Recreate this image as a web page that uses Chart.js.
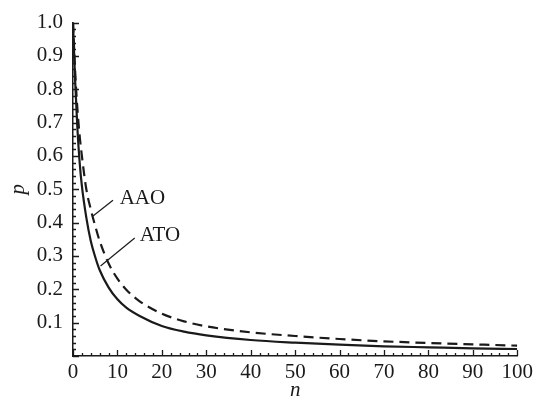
<!DOCTYPE html>
<html>
<head>
<meta charset="utf-8">
<script src="https://cdn.jsdelivr.net/npm/chart.js@4"></script>
<style>
  body { margin: 0; background: #fff; }
  #wrap { width: 537px; height: 401px; }
</style>
</head>
<body>
<div id="wrap"><canvas id="pChart"></canvas></div>
<script>
// values
const nValues = [0, 0.5, 1, 1.5, 2, 3, 4, 5, 6, 8, 10, 12, 15, 20, 25, 30, 40, 50, 60, 70, 80, 90, 100];
const atoValues = [1.0, 0.82, 0.68, 0.58, 0.51, 0.415, 0.345, 0.297, 0.258, 0.206, 0.17, 0.145, 0.12, 0.09, 0.073, 0.062, 0.048, 0.04, 0.034, 0.029, 0.026, 0.023, 0.021];
const aaoValues = [1.0, 0.85, 0.74, 0.66, 0.6, 0.5, 0.44, 0.39, 0.345, 0.278, 0.232, 0.199, 0.164, 0.127, 0.104, 0.089, 0.071, 0.06, 0.051, 0.044, 0.039, 0.035, 0.031];
const xTicks = [0, 10, 20, 30, 40, 50, 60, 70, 80, 90, 100];
const yTicks = [0.1, 0.2, 0.3, 0.4, 0.5, 0.6, 0.7, 0.8, 0.9, 1.0];

// curve labels with leader lines, in data units
const curveLabels = [
  { text: 'AAO', at: [10.5, 0.473], from: [9.0, 0.467], to: [4.5, 0.42] },
  { text: 'ATO', at: [15.0, 0.36], from: [13.9, 0.354], to: [6.2, 0.27] }
];

const serif = '"Liberation Serif", "DejaVu Serif", serif';
const ink = '#1a1a1a';

const toPoints = (ys) => nValues.map((n, i) => ({ x: n, y: ys[i] }));

// inward ticks + curve labels
const axisDecor = {
  id: 'axisDecor',
  afterDraw(chart) {
    const { ctx, chartArea: area, scales: { x, y } } = chart;
    ctx.save();
    ctx.strokeStyle = ink;
    ctx.lineWidth = 1.3;
    ctx.beginPath();
    for (let i = 0; i <= 50; i++) {
      const v = i * 2;
      const px = Math.round(x.getPixelForValue(v)) + 0.5;
      const len = (v % 10 === 0) ? 6 : 3;
      ctx.moveTo(px, area.bottom);
      ctx.lineTo(px, area.bottom - len);
    }
    for (let i = 0; i <= 50; i++) {
      const py = Math.round(y.getPixelForValue(i * 0.02)) + 0.5;
      const len = (i % 5 === 0) ? 6 : 3;
      ctx.moveTo(area.left, py);
      ctx.lineTo(area.left + len, py);
    }
    ctx.stroke();

    ctx.lineWidth = 1.2;
    ctx.fillStyle = ink;
    ctx.font = '21px ' + serif;
    ctx.textBaseline = 'middle';
    ctx.textAlign = 'left';
    curveLabels.forEach(l => {
      ctx.beginPath();
      ctx.moveTo(x.getPixelForValue(l.from[0]), y.getPixelForValue(l.from[1]));
      ctx.lineTo(x.getPixelForValue(l.to[0]), y.getPixelForValue(l.to[1]));
      ctx.stroke();
      ctx.fillText(l.text, x.getPixelForValue(l.at[0]), y.getPixelForValue(l.at[1]));
    });
    ctx.restore();
  }
};

const ctx = document.getElementById('pChart').getContext('2d');

const pChart = new Chart(ctx, {
  type: 'line',
  data: {
    datasets: [{
      label: 'ATO',
      data: toPoints(atoValues),
      borderColor: ink,
      borderWidth: 2.2,
      pointRadius: 0,
      cubicInterpolationMode: 'monotone'
    }, {
      label: 'AAO',
      data: toPoints(aaoValues),
      borderColor: ink,
      borderWidth: 2.2,
      borderDash: [10, 6],
      pointRadius: 0,
      cubicInterpolationMode: 'monotone'
    }]
  },
  options: {
    responsive: true,
    maintainAspectRatio: false,
    animation: false,
    layout: {
      padding: { top: 20, right: 17, bottom: 0, left: 0 }
    },
    scales: {
      x: {
        type: 'linear',
        min: 0,
        max: 100,
        afterFit: (s) => { s.height = 45; },
        afterBuildTicks: (s) => { s.ticks = xTicks.map(v => ({ value: v })); },
        grid: { display: false, drawTicks: false },
        border: { display: true, color: ink, width: 1.5 },
        ticks: {
          padding: 4,
          maxRotation: 0,
          color: ink,
          font: { family: serif, size: 21 }
        },
        title: {
          display: true,
          text: 'n',
          color: ink,
          padding: 0,
          font: { family: serif, size: 21, style: 'italic', lineHeight: 1 }
        }
      },
      y: {
        min: 0,
        max: 1,
        afterFit: (s) => { s.width = 73; },
        afterBuildTicks: (s) => { s.ticks = yTicks.map(v => ({ value: v })); },
        grid: { display: false, drawTicks: false },
        border: { display: true, color: ink, width: 1.5 },
        ticks: {
          padding: 10,
          color: ink,
          font: { family: serif, size: 21 },
          callback: (v) => v.toFixed(1)
        },
        title: {
          display: true,
          text: 'p',
          color: ink,
          padding: { top: 8, bottom: 0 },
          font: { family: serif, size: 21, style: 'italic', lineHeight: 1 }
        }
      }
    },
    plugins: {
      legend: { display: false },
      tooltip: { enabled: false }
    }
  },
  plugins: [axisDecor]
});
</script>
</body>
</html>
